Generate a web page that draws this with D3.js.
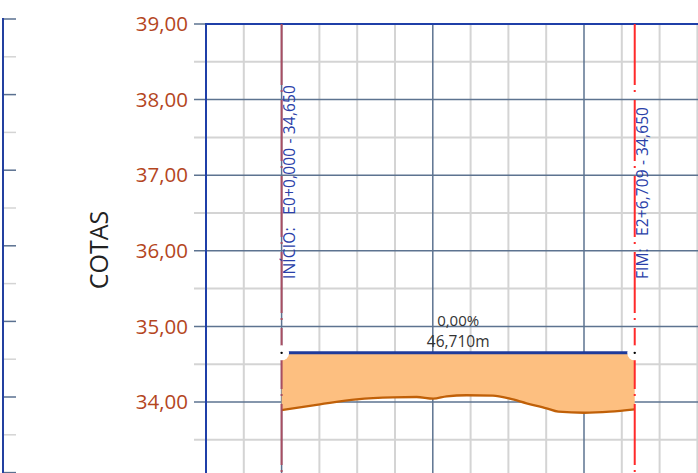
<!DOCTYPE html>
<html><head><meta charset="utf-8">
<script src="https://cdn.jsdelivr.net/npm/d3@7"></script>
<style>html,body{margin:0;padding:0;background:#fff;overflow:hidden}</style>
</head><body>
<script>
// ---- data ----
const yTicks = [34, 35, 36, 37, 38, 39];
const stations = [0, 5.07, 9.92, 14.72, 17.86, 20.05, 21.83, 24.47, 27.95, 30.2, 32.4, 35.05, 36.6, 40.03, 43.43, 46.71];
const terrain = [33.894, 33.97, 34.036, 34.062, 34.066, 34.044, 34.075, 34.089, 34.083, 34.044, 33.983, 33.917, 33.872, 33.858, 33.872, 33.903];
const gradeStations = [0, 46.71];
const gradeElev = [34.65, 34.65];
const startLabel = "INÍCIO:\u00A0\u00A0 E0+0,000 - 34,650";
const endLabel = "FIM:\u00A0\u00A0 E2+6,709 - 34,650";
const slopeLabel = "0,00%";
const lengthLabel = "46,710m";
const yTitle = "COTAS";

const W = 698, H = 473;
const svg = d3.select("body").append("svg").attr("width", W).attr("height", H)
  .style("font-family", "'Open Sans', sans-serif");

const x = d3.scaleLinear().domain([-10, 60]).range([206, 206 + 70 * 7.56]);
const y = d3.scaleLinear().domain([33, 39]).range([24 + 6 * 75.6, 24]);

const fmt = v => d3.format(".2f")(v).replace(".", ",");

// left decoration axis (neighbouring panel)
const yl = d3.scaleLinear().domain([33, 39]).range([19 + 6 * 75.6, 19]);
const leftG = svg.append("g");
d3.range(33, 39.01, 0.5).forEach(v => {
  const major = Math.abs(v - Math.round(v)) < 1e-6;
  leftG.append("line").attr("x1", 3).attr("x2", 16).attr("y1", yl(v)).attr("y2", yl(v))
    .attr("stroke", major ? "#5a7090" : "#d4d4d4").attr("stroke-width", 1.5);
});
leftG.append("line").attr("x1", 3).attr("x2", 3).attr("y1", 18).attr("y2", H)
  .attr("stroke", "#2340a0").attr("stroke-width", 2);

// grid
const grid = svg.append("g");
const xMinor = d3.range(-10, 60.01, 5);
const yMinor = d3.range(33, 39.01, 0.5);
xMinor.forEach(v => {
  if (Math.abs(v % 20) < 1e-6) return;
  grid.append("line").attr("x1", x(v)).attr("x2", x(v)).attr("y1", y(39)).attr("y2", H)
    .attr("stroke", "#d4d4d4").attr("stroke-width", 2);
});
yMinor.forEach(v => {
  if (Math.abs(v - Math.round(v)) < 1e-6) return;
  grid.append("line").attr("x1", 194).attr("x2", W).attr("y1", y(v)).attr("y2", y(v))
    .attr("stroke", "#d4d4d4").attr("stroke-width", 2);
});
xMinor.forEach(v => {
  if (Math.abs(v % 20) > 1e-6) return;
  grid.append("line").attr("x1", x(v)).attr("x2", x(v)).attr("y1", y(39)).attr("y2", H)
    .attr("stroke", "#5d7390").attr("stroke-width", 1.5);
});
yMinor.forEach(v => {
  if (Math.abs(v - Math.round(v)) > 1e-6) return;
  grid.append("line").attr("x1", 194).attr("x2", W).attr("y1", y(v)).attr("y2", y(v))
    .attr("stroke", "#5d7390").attr("stroke-width", 1.5);
});

// frame
svg.append("line").attr("x1", x(-10)).attr("x2", x(-10)).attr("y1", y(39) - 1).attr("y2", H)
  .attr("stroke", "#1f3fa8").attr("stroke-width", 2);
svg.append("line").attr("x1", x(-10)).attr("x2", W).attr("y1", y(39)).attr("y2", y(39))
  .attr("stroke", "#1f3fa8").attr("stroke-width", 2);

// y tick labels
svg.append("g").selectAll("text").data(yTicks).join("text")
  .attr("x", 188).attr("y", d => y(d)).attr("dy", "0.35em").attr("text-anchor", "end")
  .attr("fill", "#b4461e").attr("font-size", 20.5).text(fmt);

// y title
svg.append("text").attr("transform", `translate(108,250) rotate(-90)`)
  .attr("text-anchor", "middle").attr("font-size", 25).attr("fill", "#222").text(yTitle);

// earthwork fill
const pts = stations.map((s, i) => ({ s, t: terrain[i] }));
const area = d3.area().x(d => x(d.s)).y0(d => y(d.t)).y1(y(gradeElev[0])).curve(d3.curveMonotoneX);
svg.append("path").datum(pts).attr("d", area).attr("fill", "#fdbf80");

// terrain line
const line = d3.line().x(d => x(d.s)).y(d => y(d.t)).curve(d3.curveMonotoneX);
svg.append("path").datum(pts).attr("d", line).attr("fill", "none")
  .attr("stroke", "#c06008").attr("stroke-width", 2.3);

// grade line
svg.append("line").attr("x1", x(gradeStations[0])).attr("x2", x(gradeStations[1]))
  .attr("y1", y(gradeElev[0])).attr("y2", y(gradeElev[1]))
  .attr("stroke", "#1f3a9a").attr("stroke-width", 3);

// vertical station lines
gradeStations.forEach((s, i) => {
  svg.append("line").attr("x1", x(s)).attr("x2", x(s)).attr("y1", y(39)).attr("y2", H)
    .attr("stroke", i === 0 ? "#a84e62" : "#ff2a2a").attr("stroke-width", 2)
    .attr("stroke-dasharray", "61,5,2,8");
});

// endpoint markers
gradeStations.forEach((s, i) => {
  svg.append("circle").attr("cx", x(s)).attr("cy", y(gradeElev[i])).attr("r", 7.5).attr("fill", "#fff");
  svg.append("circle").attr("cx", x(s)).attr("cy", y(gradeElev[i])).attr("r", 1.2).attr("fill", "#000");
});

// station labels
[[gradeStations[0], startLabel, 194], [gradeStations[1], endLabel, 172]].forEach(([s, t, len]) => {
  svg.append("text").attr("transform", `translate(${x(s) + 13},279) rotate(-90)`)
    .attr("font-size", 15.5).attr("fill", "#2a40a8")
    .attr("textLength", len).attr("lengthAdjust", "spacing").text(t);
});

// slope / length label
const mid = (x(gradeStations[0]) + x(gradeStations[1])) / 2;
svg.append("text").attr("x", mid).attr("y", 326).attr("text-anchor", "middle")
  .attr("font-size", 15).attr("fill", "#333").text(slopeLabel);
svg.append("text").attr("x", mid).attr("y", 347).attr("text-anchor", "middle")
  .attr("font-size", 15.5).attr("fill", "#333").text(lengthLabel);
</script>
</body></html>
